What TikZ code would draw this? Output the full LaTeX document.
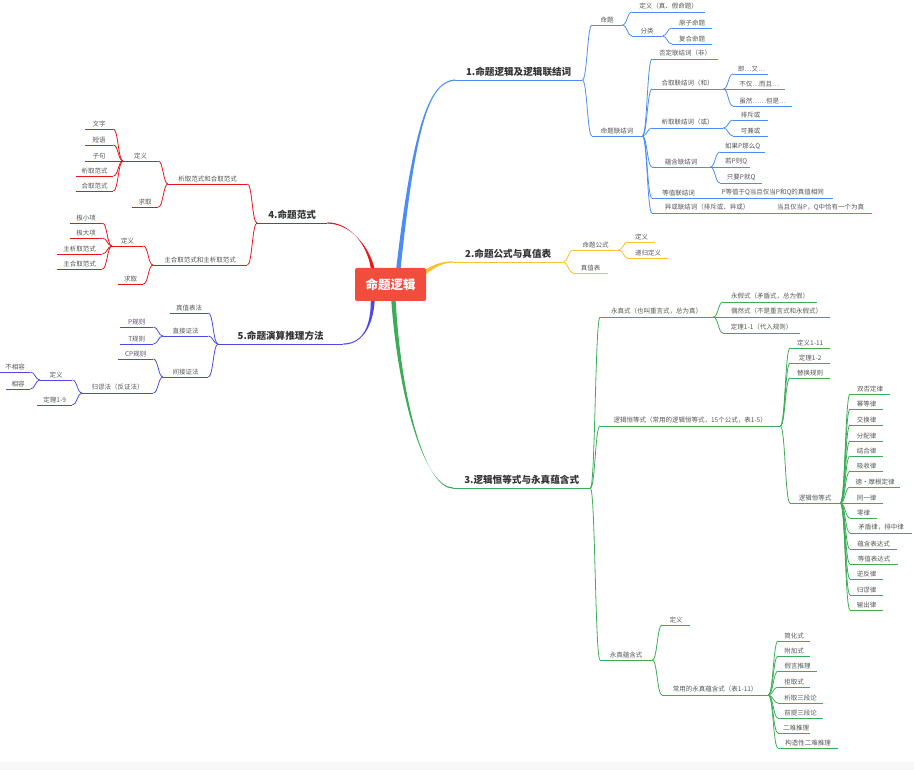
\documentclass[tikz,border=0pt]{standalone}
\usepackage{fontspec}
\setmainfont{Noto Sans CJK SC}
\usetikzlibrary{calc,backgrounds}
\definecolor{rootred}{HTML}{F24C3D}
\definecolor{bblue}{HTML}{4C8CF5}
\definecolor{byellow}{HTML}{F9C12E}
\definecolor{bgreen}{HTML}{3CAD57}
\definecolor{bred}{HTML}{E8151B}
\definecolor{bviolet}{HTML}{4B4AE8}
\definecolor{leaftext}{HTML}{555555}
\definecolor{titletext}{HTML}{333333}
% node: name, style, x from, x to, y of underline, text
\newcommand{\mm}[6]{%
  \pgfmathsetlengthmacro\mmw{(#4-#3-10)*1pt}%
  \node[#2, text width=\mmw] (#1) at (#3,#5) {#6};}
% connectors: right side, left side, straight
\newcommand{\linkR}[3]{%
  \coordinate (knee) at ($(#2.south east)!.5!(#3.south west)$);
  \draw[link=#1] (#2.south east) .. controls (#2.south east -| knee) and (knee |- #3.south west) .. (#3.south west);}
\newcommand{\linkL}[3]{%
  \coordinate (knee) at ($(#2.south west)!.5!(#3.south east)$);
  \draw[link=#1] (#2.south west) .. controls (#2.south west -| knee) and (knee |- #3.south east) .. (#3.south east);}
\newcommand{\linkSR}[3]{\draw[link=#1] (#2.south east) -- (#3.south west);}
\newcommand{\linkSL}[3]{\draw[link=#1] (#2.south west) -- (#3.south east);}
% tapered trunk: colour, start, c1, c2, end, half width at start
\newcommand{\trunk}[6]{%
  \fill[#1] ($#2-#6$) .. controls ($#3-0.6*#6$) and ($#4+(0,-0.6)$) .. ($#5+(0,-0.6)$)
    -- ($#5+(0,0.6)$) .. controls ($#4+(0,0.6)$) and ($#3+0.6*#6$) .. ($#2+#6$) -- cycle;}
\tikzset{
  ul/.style={append after command={(\tikzlastnode.south west) edge[draw=#1, line width=0.8pt] (\tikzlastnode.south east)}},
  leaf/.style={anchor=south west, inner xsep=5pt, inner ysep=2.2pt, align=center, font=\fontsize{6.5}{7}\selectfont, text=leaftext, ul=#1},
  branch/.style={leaf=#1, inner ysep=3.5pt, font=\fontsize{9.6}{11}\selectfont\bfseries, text=titletext},
  link/.style={draw=#1, line width=0.8pt},
  rootbox/.style={fill=rootred, rounded corners=2pt, text=white, font=\fontsize{12.5}{14}\selectfont\bfseries, minimum width=71pt, minimum height=33pt}}

\begin{document}
\begin{tikzpicture}[x=1pt,y=-1pt]
  \useasboundingbox (0,0) rectangle (914,770);
  % root
  \node[rootbox] (root) at (390.5,284.5) {命题逻辑};
  % main branches
  \mm{t1}{branch=bblue}{455}{582}{80}{1.命题逻辑及逻辑联结词}
  \mm{t2}{branch=byellow}{453}{563}{262}{2.命题公式与真值表}
  \mm{t3}{branch=bgreen}{453}{590}{488}{3.逻辑恒等式与永真蕴含式}
  \mm{t4}{branch=bred}{257}{327}{223}{4.命题范式}
  \mm{t5}{branch=bviolet}{218}{343}{344}{5.命题演算推理方法}
  \coordinate (s1) at ($(root.north)+(8,0)$);
  \coordinate (s2) at ($(root.north east)+(-2,5)$);
  \coordinate (s3) at ($(root.south)+(3,0)$);
  \coordinate (s4) at ($(root.north west)+(18,1)$);
  \coordinate (s5) at ($(root.south west)+(18,-1)$);
  \begin{scope}[on background layer]
    \fill[gray!6] (0,762) rectangle (914,770);
    \trunk{bblue}{(s1)}{(415,120)}{(430,82)}{(t1.south west)}{(2.2,0)}
    \trunk{byellow}{(s2)}{(436,265)}{(443,262)}{(t2.south west)}{(0,2.6)}
    \trunk{bgreen}{(s3)}{(400,400)}{(425,488)}{(t3.south west)}{(2.2,0)}
    \trunk{bred}{(s4)}{(368,245)}{(350,223)}{(t4.south east)}{(2,0.8)}
    \trunk{bviolet}{(s5)}{(372,330)}{(360,344)}{(t5.south east)}{(2,-0.8)}
  \end{scope}

  % 1. propositions and connectives
  \mm{prop}{leaf=bblue}{592}{622}{25}{命题}
  \mm{propdef}{leaf=bblue}{632}{705}{12}{定义（真、假命题）}
  \mm{propcls}{leaf=bblue}{632}{662}{36}{分类}
  \mm{atom}{leaf=bblue}{672}{712}{28}{原子命题}
  \mm{compd}{leaf=bblue}{672}{712}{44}{复合命题}
  \mm{conn}{leaf=bblue}{592}{642}{136}{命题联结词}
  \mm{cneg}{leaf=bblue}{652}{718}{59}{否定联结词（非）}
  \mm{cand}{leaf=bblue}{652}{723}{89}{合取联结词（和）}
  \mm{candA}{leaf=bblue}{733}{768}{74}{即…又…}
  \mm{candB}{leaf=bblue}{733}{785}{89}{不仅…而且…}
  \mm{candC}{leaf=bblue}{733}{792}{106}{虽然……但是…}
  \mm{cor}{leaf=bblue}{652}{723}{128}{析取联结词（或）}
  \mm{corA}{leaf=bblue}{733}{768}{120}{排斥或}
  \mm{corB}{leaf=bblue}{733}{768}{136}{可兼或}
  \mm{cimp}{leaf=bblue}{652}{710}{167}{蕴含联结词}
  \mm{cimpA}{leaf=bblue}{720}{765}{152}{如果P那么Q}
  \mm{cimpB}{leaf=bblue}{720}{750}{167}{若P则Q}
  \mm{cimpC}{leaf=bblue}{720}{762}{183}{只要P就Q}
  \mm{ceq}{leaf=bblue}{652}{705}{198}{等值联结词}
  \mm{ceqA}{leaf=bblue}{712}{833}{198}{P等值于Q当且仅当P和Q的真值相同}
  \mm{cxor}{leaf=bblue}{652}{762}{213}{异或联结词（排斥或、异或）}
  \mm{cxorA}{leaf=bblue}{769}{872}{213}{当且仅当P，Q中恰有一个为真}
  \linkR{bblue}{t1}{prop} \linkR{bblue}{t1}{conn}
  \linkR{bblue}{prop}{propdef} \linkR{bblue}{prop}{propcls}
  \linkR{bblue}{propcls}{atom} \linkR{bblue}{propcls}{compd}
  \foreach \c in {cneg,cand,cor,cimp,ceq,cxor} {\linkR{bblue}{conn}{\c}}
  \linkR{bblue}{cand}{candA} \linkSR{bblue}{cand}{candB} \linkR{bblue}{cand}{candC}
  \linkR{bblue}{cor}{corA} \linkR{bblue}{cor}{corB}
  \linkR{bblue}{cimp}{cimpA} \linkSR{bblue}{cimp}{cimpB} \linkR{bblue}{cimp}{cimpC}
  \linkSR{bblue}{ceq}{ceqA} \linkSR{bblue}{cxor}{cxorA}

  % 2. formulas and truth tables
  \mm{form}{leaf=byellow}{573}{618}{250}{命题公式}
  \mm{formdef}{leaf=byellow}{628}{655}{242}{定义}
  \mm{formrec}{leaf=byellow}{628}{668}{258}{递归定义}
  \mm{ttab}{leaf=byellow}{573}{608}{273}{真值表}
  \linkR{byellow}{t2}{form} \linkR{byellow}{t2}{ttab}
  \linkR{byellow}{form}{formdef} \linkR{byellow}{form}{formrec}

  % 3. identities and implications
  \mm{taut}{leaf=bgreen}{600}{713}{317}{永真式（也叫重言式，总为真）}
  \mm{contr}{leaf=bgreen}{723}{817}{302}{永假式（矛盾式，总为假）}
  \mm{conti}{leaf=bgreen}{723}{830}{317}{偶然式（不是重言式和永假式）}
  \mm{thmA}{leaf=bgreen}{723}{800}{333}{定理1-1（代入规则）}
  \mm{ident}{leaf=bgreen}{600}{780}{426}{逻辑恒等式（常用的逻辑恒等式，15个公式，表1-5）}
  \mm{identdef}{leaf=bgreen}{790}{830}{348}{定义1-11}
  \mm{thmB}{leaf=bgreen}{790}{830}{363}{定理1-2}
  \mm{subst}{leaf=bgreen}{790}{830}{378}{替换规则}
  \mm{laws}{leaf=bgreen}{790}{840}{503}{逻辑恒等式}
  \mm{impl}{leaf=bgreen}{600}{652}{660}{永真蕴含式}
  \mm{impldef}{leaf=bgreen}{662}{690}{625}{定义}
  \mm{implcom}{leaf=bgreen}{662}{768}{695}{常用的永真蕴含式（表1-11）}
  \linkR{bgreen}{t3}{taut} \linkR{bgreen}{t3}{ident} \linkR{bgreen}{t3}{impl}
  \linkR{bgreen}{taut}{contr} \linkSR{bgreen}{taut}{conti} \linkR{bgreen}{taut}{thmA}
  \foreach \c in {identdef,thmB,subst,laws} {\linkR{bgreen}{ident}{\c}}
  \linkR{bgreen}{impl}{impldef} \linkR{bgreen}{impl}{implcom}
  \foreach \n/\w/\y/\t in {1/890/394/双否定律, 2/883/409/幂等律, 3/883/425/交换律,
      4/883/441/分配律, 5/883/456/结合律, 6/883/471/吸收律, 7/900/487/德·摩根定律,
      8/883/503/同一律, 9/877/518/零律, 10/912/533/矛盾律，排中律, 11/897/549/蕴含表达式,
      12/898/564/等值表达式, 13/883/579/逆反律, 14/883/595/归谬律, 15/883/610/输出律} {
    \mm{law\n}{leaf=bgreen}{850}{\w}{\y}{\t}
    \ifnum\y=503 \linkSR{bgreen}{laws}{law\n} \else \linkR{bgreen}{laws}{law\n} \fi
  }
  \foreach \n/\w/\y/\t in {1/810/641/简化式, 2/810/656/附加式, 3/817/671/假言推理,
      4/810/687/拒取式, 5/823/703/析取三段论, 6/823/718/前提三段论, 7/810/733/二难推理,
      8/838/748/构造性二难推理} {
    \mm{imp\n}{leaf=bgreen}{778}{\w}{\y}{\t}
    \linkR{bgreen}{implcom}{imp\n}
  }

  % 4. normal forms
  \mm{nfa}{leaf=bred}{168}{247}{184}{析取范式和合取范式}
  \mm{nfadef}{leaf=bred}{123}{158}{161}{定义}
  \mm{nfaget}{leaf=bred}{132}{158}{207}{求取}
  \mm{nfb}{leaf=bred}{153}{247}{265}{主合取范式和主析取范式}
  \mm{nfbdef}{leaf=bred}{112}{143}{246}{定义}
  \mm{nfbget}{leaf=bred}{118}{143}{284}{求取}
  \linkL{bred}{t4}{nfa} \linkL{bred}{t4}{nfb}
  \linkL{bred}{nfa}{nfadef} \linkL{bred}{nfa}{nfaget}
  \linkL{bred}{nfb}{nfbdef} \linkL{bred}{nfb}{nfbget}
  \foreach \n/\a/\y/\t in {1/85/129/文字, 2/85/145/短语, 3/85/161/子句, 4/76/176/析取范式, 5/76/191/合取范式} {
    \mm{word\n}{leaf=bred}{\a}{113}{\y}{\t}
    \ifnum\y=161 \linkSL{bred}{nfadef}{word\n} \else \linkL{bred}{nfadef}{word\n} \fi
  }
  \foreach \n/\a/\y/\t in {1/70/223/极小项, 2/70/238/极大项, 3/57/254/主析取范式, 4/57/269/主合取范式} {
    \mm{term\n}{leaf=bred}{\a}{102}{\y}{\t}
    \linkL{bred}{nfbdef}{term\n}
  }

  % 5. inference methods
  \mm{truth}{leaf=bviolet}{170}{208}{313}{真值表法}
  \mm{direct}{leaf=bviolet}{163}{208}{336}{直接证法}
  \mm{ruleP}{leaf=bviolet}{120}{153}{327}{P规则}
  \mm{ruleT}{leaf=bviolet}{120}{153}{344}{T规则}
  \mm{indir}{leaf=bviolet}{163}{208}{377}{间接证法}
  \mm{ruleCP}{leaf=bviolet}{118}{153}{359}{CP规则}
  \mm{absurd}{leaf=bviolet}{82}{153}{393}{归谬法（反证法）}
  \mm{absdef}{leaf=bviolet}{40}{72}{380}{定义}
  \mm{incomp}{leaf=bviolet}{0}{30}{372}{不相容}
  \mm{comp}{leaf=bviolet}{6}{30}{389}{相容}
  \mm{thmC}{leaf=bviolet}{37}{72}{405}{定理1-9}
  \foreach \c in {truth,direct,indir} {\linkL{bviolet}{t5}{\c}}
  \linkL{bviolet}{direct}{ruleP} \linkL{bviolet}{direct}{ruleT}
  \linkL{bviolet}{indir}{ruleCP} \linkL{bviolet}{indir}{absurd}
  \linkL{bviolet}{absurd}{absdef} \linkL{bviolet}{absurd}{thmC}
  \linkL{bviolet}{absdef}{incomp} \linkL{bviolet}{absdef}{comp}
\end{tikzpicture}
\end{document}
